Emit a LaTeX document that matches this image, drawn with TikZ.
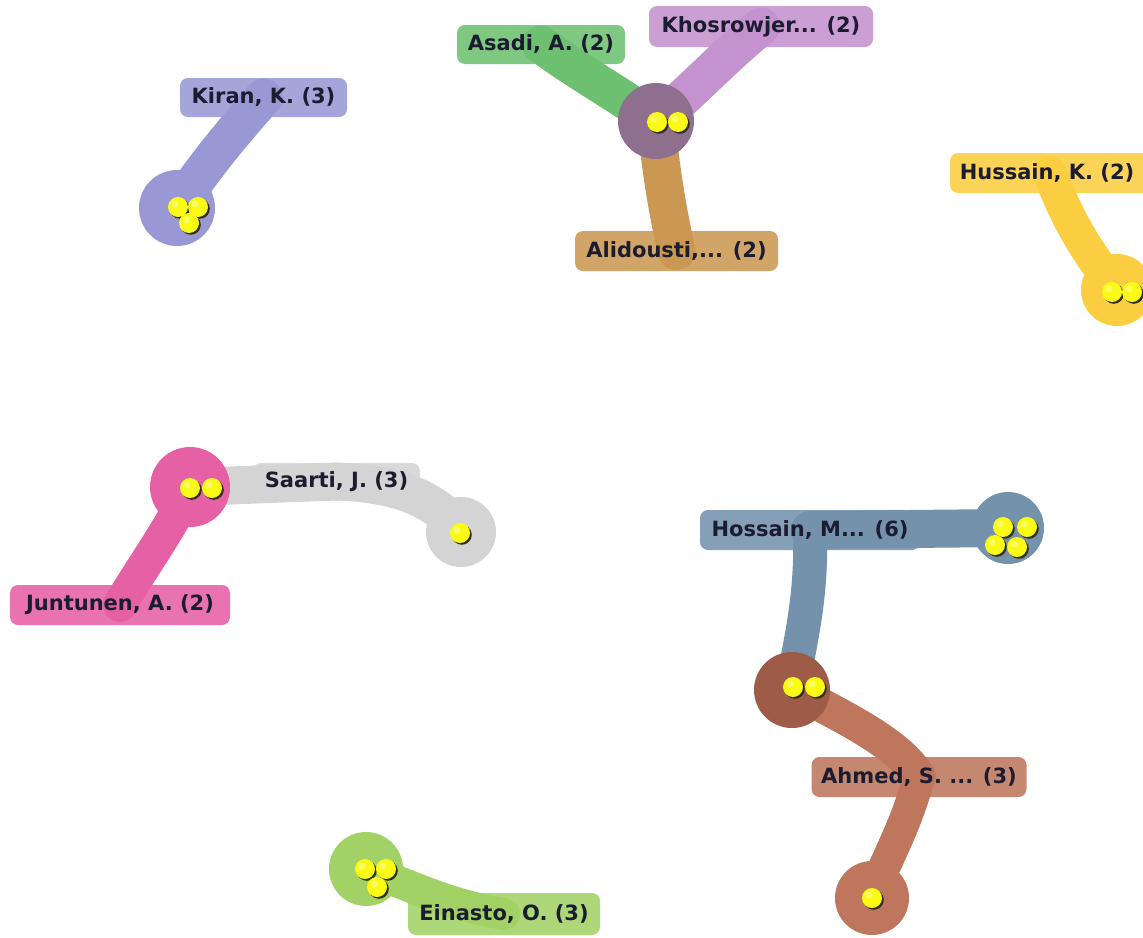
\documentclass[tikz,border=0pt]{standalone}
\usepackage{fontspec}
\setmainfont{DejaVu Sans}
\pgfdeclarelayer{bg}
\pgfsetlayers{bg,main}
\definecolor{txt}{RGB}{28,28,48}
\definecolor{kiranc}{RGB}{152,152,212}
\definecolor{asadic}{RGB}{108,192,112}
\definecolor{khosc}{RGB}{196,146,206}
\definecolor{alidc}{RGB}{202,152,82}
\definecolor{hubc}{RGB}{142,112,142}
\definecolor{hussc}{RGB}{250,206,64}
\definecolor{juntc}{RGB}{230,96,166}
\definecolor{saartc}{RGB}{212,212,212}
\definecolor{hossc}{RGB}{116,146,172}
\definecolor{brownc}{RGB}{158,92,72}
\definecolor{ahmedc}{RGB}{190,118,92}
\definecolor{einc}{RGB}{162,210,102}
\definecolor{seedc}{RGB}{250,250,20}
\definecolor{seedshade}{RGB}{50,45,10}
\begin{document}
\begin{tikzpicture}[x=1pt,y=-1pt,
  lbl/.style={rounded corners=8pt, minimum height=39pt, inner sep=0pt,
    font=\bfseries\fontsize{21}{21}\selectfont, text=txt,
    fill opacity=0.88, text opacity=1},
  stem/.style={line width=38pt, line cap=round},
  blob/.style={circle, inner sep=0pt, minimum size=76pt},
  seed/.pic={\fill[seedshade] (1.8,1.8) circle (10);
             \fill[seedc] (0,0) circle (10);
             \fill[white, opacity=0.35] (-3,-3) circle (3.5);}
]
\useasboundingbox (0,0) rectangle (1143,937);
\clip (0,0) rectangle (1143,937);

% ---- blobs ----
\node[blob, fill=kiranc] (kb) at (177,208) {};
\node[blob, fill=hubc] (tc) at (656,121) {};
\node[blob, fill=hussc, minimum size=72pt] (hb) at (1117,290) {};
\node[blob, fill=juntc, minimum size=80pt] (jb) at (190,487) {};
\node[blob, fill=saartc, minimum size=70pt] (sb) at (461,532) {};
\node[blob, fill=hossc, minimum size=72pt] (hrb) at (1008,528) {};
\node[blob, fill=brownc] (bc) at (792,690) {};
\node[blob, fill=ahmedc, minimum size=74pt] (ab) at (872,898) {};
\node[blob, fill=einc, minimum size=74pt] (eb) at (366,869) {};

% ---- labels ----
\node[lbl, fill=kiranc, minimum width=167pt] (kl) at (263.5,97.5) {Kiran, K. (3)};
\node[lbl, fill=asadic, minimum width=168pt] (asl) at (541,44.5) {Asadi, A. (2)};
\node[lbl, fill=khosc, minimum width=224pt, minimum height=41pt] (khl) at (761,26.5) {Khosrowjer... (2)};
\node[lbl, fill=alidc, minimum width=203pt, minimum height=40pt] (all) at (676.5,251) {Alidousti,... (2)};
\node[lbl, fill=hussc, minimum width=200pt, minimum height=40pt] (hul) at (1050,173) {Hussain, K. (2)\hspace*{6pt}};
\node[lbl, fill=juntc, minimum width=220pt, minimum height=40pt] (jl) at (120,605) {Juntunen, A. (2)};
\node[lbl, fill=saartc, minimum width=167pt, minimum height=37pt] (sl) at (336.5,481.5) {Saarti, J. (3)};
\node[lbl, fill=hossc, minimum width=220pt, minimum height=40pt] (hl) at (810,530) {Hossain, M... (6)};
\node[lbl, fill=ahmedc, minimum width=215pt, minimum height=40pt] (al) at (919,777) {Ahmed, S. ... (3)};
\node[lbl, fill=einc, minimum width=192pt, minimum height=42pt] (el) at (504,914) {Einasto, O. (3)};

% ---- stems ----
\begin{pgfonlayer}{bg}
\draw[stem, kiranc] (kb.center) .. controls (205,165) and (235,130) .. (kl.center);
\draw[stem, asadic] (tc.center) .. controls (615,92) and (578,72) .. (asl.center);
\draw[stem, khosc] (tc.center) .. controls (692,92) and (718,62) .. (khl.center);
\draw[stem, alidc] (tc.center) .. controls (662,180) and (668,212) .. (all.center);
\draw[stem, hussc, line width=34pt] (hul.center) .. controls (1065,215) and (1085,250) .. (hb.center);
\draw[stem, juntc, line width=34pt] (jb.center) .. controls (170,530) and (140,570) .. (jl.center);
\draw[stem, saartc] (jb.center) -- (sl.center);
\draw[stem, saartc] (sl.center) .. controls (410,484) and (440,505) .. (sb.center);
\draw[stem, hossc] (hl.center) -- (hrb.center);
\draw[stem, hossc, line width=34pt] (hl.center) .. controls (812,600) and (800,640) .. (bc.center);
\draw[stem, ahmedc, line width=34pt] (bc.center) .. controls (850,720) and (900,745) .. (al.center);
\draw[stem, ahmedc, line width=32pt] (al.center) .. controls (905,830) and (885,860) .. (ab.center);
\draw[stem, einc, line width=32pt] (eb.center) .. controls (420,890) and (450,905) .. (el.center);
\end{pgfonlayer}

% ---- seeds ----
\pic at (178,207) {seed}; \pic at (198,207) {seed}; \pic at (189,223) {seed};
\pic at (657,122) {seed}; \pic at (678,122) {seed};
\pic at (1112,292) {seed}; \pic at (1132,292) {seed};
\pic at (190,488) {seed}; \pic at (212,488) {seed};
\pic at (460,533) {seed};
\pic at (1003,527) {seed}; \pic at (1027,527) {seed};
\pic at (995,545) {seed}; \pic at (1017,547) {seed};
\pic at (793,687) {seed}; \pic at (815,687) {seed};
\pic at (872,898) {seed};
\pic at (365,869) {seed}; \pic at (386,869) {seed}; \pic at (377,887) {seed};
\end{tikzpicture}
\end{document}
